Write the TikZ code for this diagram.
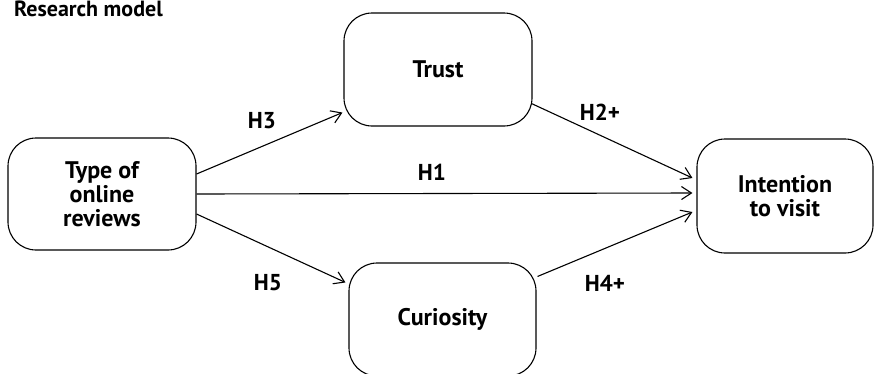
\documentclass[tikz,border=0pt]{standalone}
\usepackage{fontspec}
\setmainfont{PT Sans}
\usetikzlibrary{arrows.meta}
\begin{document}
\begin{tikzpicture}[x=1pt,y=-1pt,
  box/.style={draw,line width=1.1pt,rounded corners=28pt,inner sep=0pt,align=center,
    font=\fontsize{24}{24}\selectfont\bfseries},
  lbl/.style={font=\fontsize{23}{24}\selectfont\bfseries,inner sep=0pt},
  link/.style={line width=1.1pt,-{Straight Barb[length=10pt,width=13pt,line width=1.1pt]}}]
\useasboundingbox (0,0) rectangle (875,373);
\node[anchor=base west,font=\fontsize{22}{24}\selectfont\bfseries,inner sep=0pt] (title) at (14,16.5) {Research model};
\node[box,minimum width=188pt,minimum height=112pt] (type) at (102,194) {Type of\\online\\reviews};
\node[box,minimum width=188pt,minimum height=113pt] (trust) at (438,69.5) {Trust};
\node[box,minimum width=176pt,minimum height=114pt] (intent) at (785,196) {Intention\\to visit};
\node[box,minimum width=187pt,minimum height=113pt] (curio) at (442.5,319.5) {Curiosity};
\draw[link] ([yshift=20pt]type.east) -- ([xshift=-1pt,yshift=14pt]trust.south west);
\draw[link] (type.east) -- ([xshift=-4pt,yshift=3pt]intent.west);
\draw[link] ([yshift=-20pt]type.east) -- ([xshift=-3pt,yshift=-20pt]curio.north west);
\draw[link] ([xshift=-1pt,yshift=23pt]trust.south east) -- ([xshift=-4pt,yshift=18pt]intent.west);
\draw[link] ([xshift=1pt,yshift=-14pt]curio.north east) -- ([xshift=-4pt,yshift=-16pt]intent.west);
\node[lbl] (h3) at (262,121) {H3};
\node[lbl] (h1) at (432,172) {H1};
\node[lbl] (h2) at (600,112) {H2+};
\node[lbl] (h5) at (268,283) {H5};
\node[lbl] (h4) at (605,283) {H4+};
\end{tikzpicture}
\end{document}
